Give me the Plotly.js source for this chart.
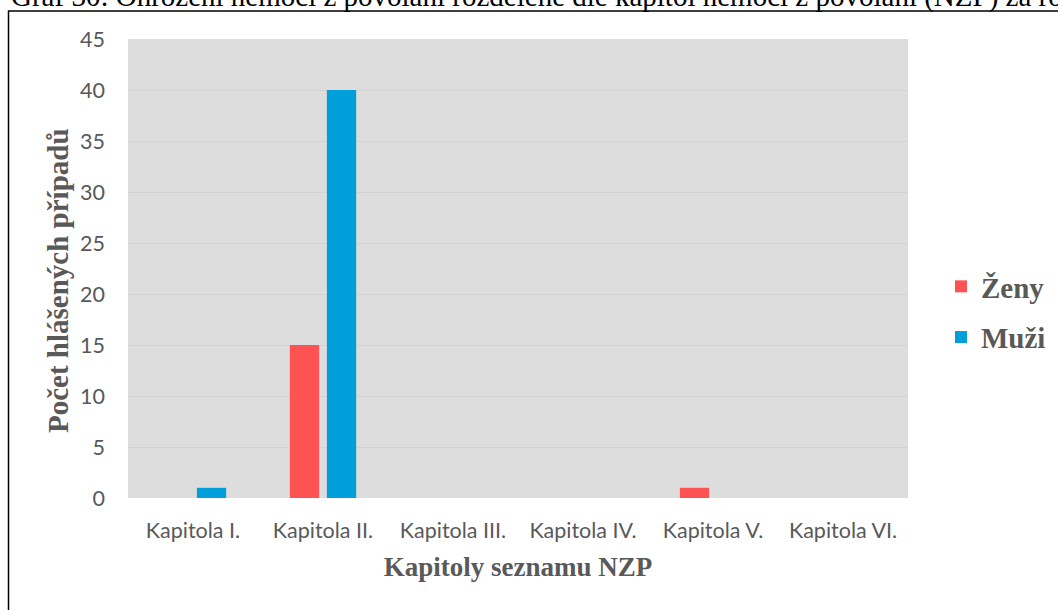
<!DOCTYPE html>
<html>
<head>
<meta charset="utf-8">
<script src="https://cdn.plot.ly/plotly-3.0.1.min.js"></script>
<style>html,body{margin:0;padding:0;background:#fff;}#chart{width:1058px;height:610px;}</style>
</head>
<body>
<div id="chart"></div>
<script>
const categories = ['Kapitola I.', 'Kapitola II.', 'Kapitola III.', 'Kapitola IV.', 'Kapitola V.', 'Kapitola VI.'];
const zeny = [0, 15, 0, 0, 1, 0];
const muzi = [1, 40, 0, 0, 0, 0];
const seriesNames = ['Ženy', 'Muži'];
const yTicks = [0, 5, 10, 15, 20, 25, 30, 35, 40, 45];
const chartTitle = 'Graf 30: Ohrožení nemocí z povolání rozdělené dle kapitol nemocí z povolání (NZP) za rok';
const xTitle = 'Kapitoly seznamu NZP';
const yTitle = 'Počet hlášených případů';

const W = 1058, H = 610;
const M = {l: 128, r: 150, t: 39, b: 112, autoexpand: false};
const PW = W - M.l - M.r, PH = H - M.t - M.b;
const px2x = p => (p - M.l) / PW;
const px2y = p => (H - M.b - p) / PH;

const grey = '#595959';
const serif = 'Liberation Serif, Times New Roman, serif';
const sans = 'Lato, Open Sans, sans-serif';

const traces = [
  {type: 'bar', name: seriesNames[0], x: categories, y: zeny, marker: {color: '#FF5353'}, legendgroup: 'z'},
  {type: 'bar', name: seriesNames[1], x: categories, y: muzi, marker: {color: '#009FDA'}, legendgroup: 'm'}
];

const layout = {
  width: W, height: H,
  margin: M,
  paper_bgcolor: '#ffffff',
  plot_bgcolor: '#dddddd',
  barmode: 'group',
  bargap: 0.43,
  bargroupgap: 0.21,
  showlegend: true,
  legend: {
    x: px2x(941), y: px2y(261), xanchor: 'left', yanchor: 'top',
    font: {family: serif, size: 29, color: grey, weight: 'bold'},
    tracegroupgap: 10, traceorder: 'grouped',
    bgcolor: 'rgba(0,0,0,0)'
  },
  xaxis: {
    type: 'category',
    tickfont: {family: sans, size: 21.5, color: grey},
    ticks: '', showline: false, showgrid: false,
    ticklabelstandoff: 17,
    title: {text: xTitle, font: {family: serif, size: 27, color: grey, weight: 'bold'}, standoff: 15},
    fixedrange: true
  },
  yaxis: {
    range: [0, 45],
    tickvals: yTicks,
    tickfont: {family: sans, size: 21.5, color: grey},
    ticks: '', showline: false,
    showgrid: true, gridcolor: '#d3d3d3', gridwidth: 1,
    zeroline: false,
    ticklabelstandoff: 22,
    fixedrange: true
  },
  annotations: [
    {text: chartTitle, xref: 'paper', yref: 'paper', x: px2x(10), y: px2y(14), xanchor: 'left', yanchor: 'bottom',
     showarrow: false, font: {family: serif, size: 29, color: '#000000'}, borderpad: 0},
    {text: '<b>' + yTitle + '</b>', xref: 'paper', yref: 'paper', x: px2x(58), y: px2y(281), xanchor: 'center', yanchor: 'middle',
     textangle: -90, showarrow: false, font: {family: serif, size: 29, color: grey}}
  ],
  shapes: [
    {type: 'rect', xref: 'paper', yref: 'paper', x0: px2x(8.5), x1: px2x(1070), y0: px2y(620), y1: px2y(11),
     line: {color: '#000000', width: 1.5}, fillcolor: 'rgba(0,0,0,0)', layer: 'below'}
  ]
};

Plotly.newPlot('chart', traces, layout, {displayModeBar: false, staticPlot: true});
</script>
</body>
</html>
